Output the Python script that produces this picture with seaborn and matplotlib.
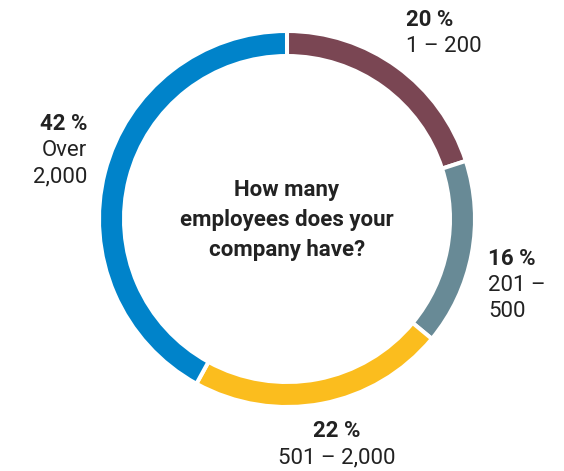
import matplotlib
matplotlib.use("Agg")
import matplotlib.pyplot as plt
import seaborn as sns

# Survey breakdown: company size by number of employees
categories = ["1 – 200", "201 –\n500", "501 – 2,000", "Over\n2,000"]
shares = [20, 16, 22, 42]
colors = ["#7A4653", "#688A96", "#FBBD1E", "#0083CA"]
question = "How many\nemployees does your\ncompany have?"

sns.set_theme(style="white")
plt.rcParams["font.family"] = ["Roboto", "DejaVu Sans"]
text_color = "#222222"

W, H = 564, 471
fig = plt.figure(figsize=(W / 100, H / 100), dpi=100)
ax = fig.add_axes([0, 0, 1, 1])

# Donut ring in pixel-like data coordinates (y measured from top)
cx, cy = 287, 219
ax.pie(
    shares,
    colors=colors,
    startangle=90,
    counterclock=False,
    center=(cx, H - cy),
    radius=188,
    wedgeprops=dict(width=25, edgecolor="white", linewidth=2.9),
)
ax.set_xlim(0, W)
ax.set_ylim(0, H)
ax.set_aspect("auto")
ax.axis("off")

def label(x, y_top, pct, name, ha):
    ax.text(x, H - y_top, f"{pct} %", ha=ha, va="baseline",
            fontsize=16, fontweight="bold", color=text_color)
    for i, line in enumerate(name.split("\n")):
        ax.text(x, H - (y_top + 26 * (i + 1)), line, ha=ha, va="baseline",
                fontsize=16, color=text_color)

label(406, 26, shares[0], categories[0], "left")
label(488, 265, shares[1], categories[1], "left")
label(337, 437, shares[2], categories[2], "center")
label(87, 130, shares[3], categories[3], "right")

for i, line in enumerate(question.split("\n")):
    ax.text(cx, H - (196 + 30 * i), line, ha="center", va="baseline",
            fontsize=16, fontweight="bold", color=text_color)

fig.savefig("out.png", dpi=100, facecolor="white")
